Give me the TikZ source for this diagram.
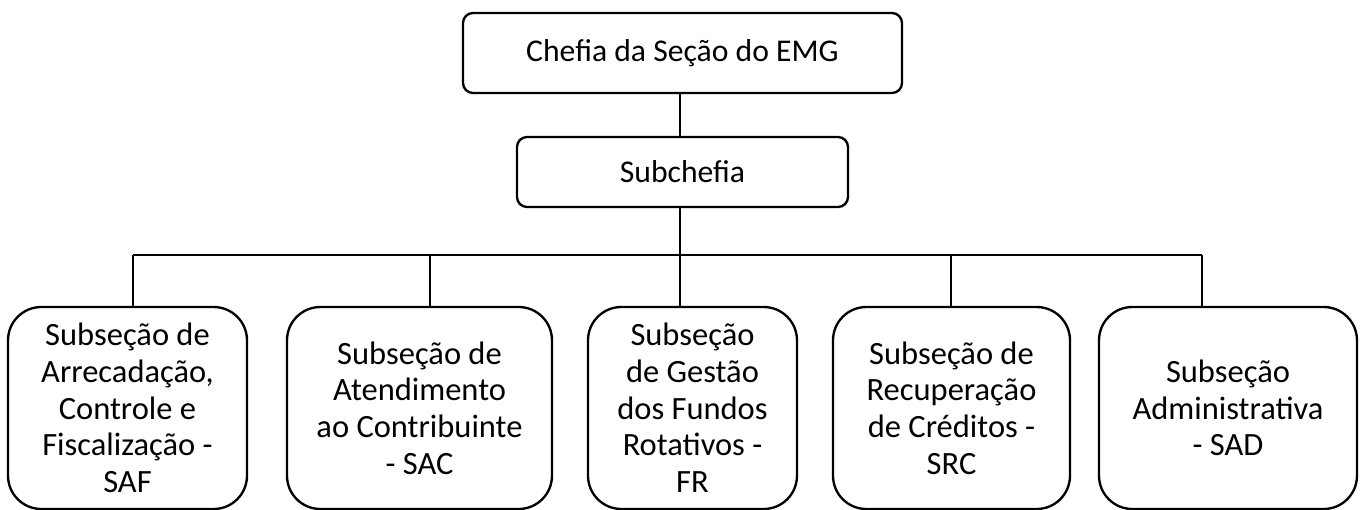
\documentclass[tikz,border=0pt]{standalone}
\usepackage{fontspec}
\setmainfont{Carlito}

\begin{document}
\begin{tikzpicture}[x=0.6pt,y=-0.6pt,line width=1.4pt,
   chefe/.style={draw,rounded corners=6pt,align=center,inner sep=0pt,
                 font=\fontsize{19}{22}\selectfont},
   secao/.style={draw,rounded corners=20pt,align=center,inner sep=0pt,
                 minimum height=121.2pt,font=\fontsize{19.5}{22}\selectfont}]
   \useasboundingbox (0,0) rectangle (1366,510);

   \node[chefe,minimum width=263.4pt,minimum height=48pt] (chefia) at (682.5,53) {Chefia da Seção do EMG};
   \node[chefe,minimum width=198.6pt,minimum height=42pt] (sub) at (682.5,172) {Subchefia};

   \node[secao,minimum width=143.4pt] (saf) at (127.5,408) {Subseção de\\Arrecadação,\\Controle e\\Fiscalização -\\SAF};
   \node[secao,minimum width=159pt] (sac) at (419.5,408) {Subseção de\\Atendimento\\ao Contribuinte\\- SAC};
   \node[secao,minimum width=125.4pt] (fr) at (692.5,408) {Subseção\\de Gestão\\dos Fundos\\Rotativos -\\FR};
   \node[secao,minimum width=142.2pt] (src) at (951.5,408) {Subseção de\\Recuperação\\de Créditos -\\SRC};
   \node[secao,minimum width=154.8pt] (sad) at (1228,408) {Subseção\\Administrativa\\- SAD};

   % barra horizontal
   \coordinate (b1) at (133,255);
   \coordinate (b2) at (430,255);
   \coordinate (b3) at (680,255);
   \coordinate (b4) at (951,255);
   \coordinate (b5) at (1202,255);

   \draw (chefia.south -| b3) -- (sub.north -| b3);
   \draw (sub.south -| b3) -- (b3);
   \draw (b1) -- (b5);
   \draw (b1) -- (b1 |- saf.north);
   \draw (b2) -- (b2 |- sac.north);
   \draw (b3) -- (b3 |- fr.north);
   \draw (b4) -- (b4 |- src.north);
   \draw (b5) -- (b5 |- sad.north);
\end{tikzpicture}
\end{document}
